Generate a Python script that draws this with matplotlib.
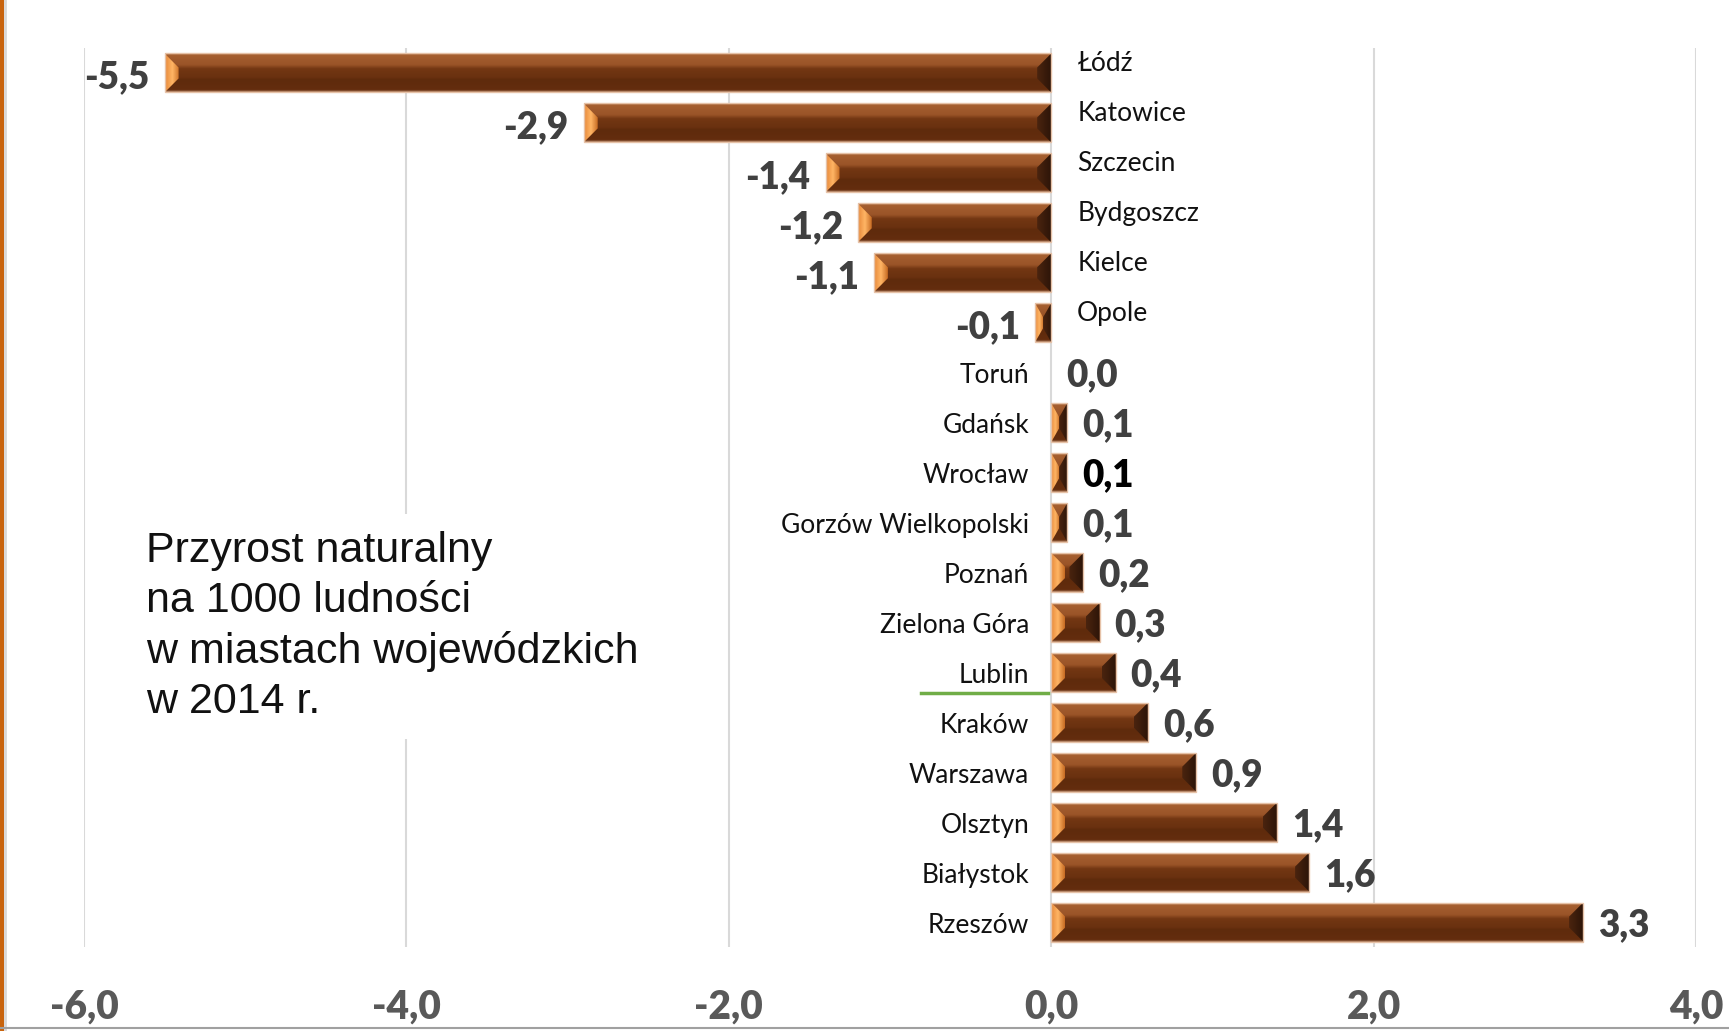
import numpy as np
import matplotlib
matplotlib.use("Agg")
import matplotlib.pyplot as plt
from matplotlib.patches import Polygon
from matplotlib.colors import LinearSegmentedColormap
from matplotlib.lines import Line2D

cities = ["Łódź", "Katowice", "Szczecin", "Bydgoszcz", "Kielce", "Opole",
          "Toruń", "Gdańsk", "Wrocław", "Gorzów Wielkopolski", "Poznań",
          "Zielona Góra", "Lublin", "Kraków", "Warszawa", "Olsztyn",
          "Białystok", "Rzeszów"]
values = [-5.5, -2.9, -1.4, -1.2, -1.1, -0.1,
          0.0, 0.1, 0.1, 0.1, 0.2,
          0.3, 0.4, 0.6, 0.9, 1.4,
          1.6, 3.3]
xticks = [-6, -4, -2, 0, 2, 4]
title = "Przyrost naturalny\nna 1000 ludności\nw miastach wojewódzkich\nw 2014 r."

W, H = 1729, 1031
fig = plt.figure(figsize=(W / 100, H / 100), dpi=100)
ax = fig.add_axes([84 / W, 1 - 947 / H, (1696 - 84) / W, (947 - 48) / H])

lab_font = "Lato"
bar_h = 0.78
px_x = (1696 - 84) / 10.0      # pixels per unit on x
px_y = (947 - 48) / 18.0       # pixels per category
bev = 14                       # bevel size in pixels

vert = LinearSegmentedColormap.from_list("v", [
    (0.0, "#c8906a"), (0.05, "#a55f30"), (0.30, "#9a5428"), (0.40, "#733713"),
    (0.62, "#6a3110"), (0.68, "#5f2b0c"), (0.95, "#642d0e"), (1.0, "#c09070")])
left_cm = LinearSegmentedColormap.from_list("l", ["#e8893a", "#ffb565", "#c66a22"])
right_cm = LinearSegmentedColormap.from_list("r", ["#4a240f", "#2e1508"])

ypos = np.arange(len(cities))
bars = ax.barh(ypos, values, height=bar_h, color="#6e3412",
               edgecolor="none", zorder=2)

grad_v = np.linspace(0, 1, 200).reshape(-1, 1)
grad_h = np.linspace(0, 1, 100).reshape(1, -1)
for b, v in zip(bars, values):
    if v == 0:
        continue
    x0 = min(0, v)
    x1 = max(0, v)
    yt = b.get_y()
    yb = yt + bar_h
    im = ax.imshow(grad_v, cmap=vert, extent=(x0, x1, yb, yt), origin="upper",
                   aspect="auto", zorder=2.1, interpolation="bilinear")
    im.set_clip_path(b)
    bx = min(bev / px_x, (x1 - x0) / 2)
    by = bev / px_y
    lp = Polygon([(x0, yt), (x0 + bx, yt + by), (x0 + bx, yb - by), (x0, yb)],
                 closed=True, transform=ax.transData)
    iml = ax.imshow(grad_h, cmap=left_cm, extent=(x0, x0 + bx, yb, yt),
                    aspect="auto", zorder=2.2, interpolation="bilinear")
    iml.set_clip_path(lp)
    rp = Polygon([(x1, yt), (x1 - bx, yt + by), (x1 - bx, yb - by), (x1, yb)],
                 closed=True, transform=ax.transData)
    imr = ax.imshow(grad_h, cmap=right_cm, extent=(x1 - bx, x1, yb, yt),
                    aspect="auto", zorder=2.2, interpolation="bilinear")
    imr.set_clip_path(rp)
    ax.add_patch(Polygon([(x0, yt), (x1, yt), (x1, yb), (x0, yb)], closed=True,
                         fill=False, edgecolor="#e6c2a8", linewidth=1.0, zorder=2.3))

# value labels and city names
for y, v, c in zip(ypos, values, cities):
    txt = f"{v:.1f}".replace(".", ",")
    col = "#000000" if c == "Wrocław" else "#404040"
    if v < 0:
        ax.annotate(txt, (v, y), xytext=(-15, -4), textcoords="offset pixels",
                    ha="right", va="center", fontsize=26.5, fontweight="heavy",
                    color=col, family=lab_font, zorder=4)
        ax.annotate(c, (0, y), xytext=(26, 9), textcoords="offset pixels",
                    ha="left", va="center", fontsize=19, color="#111111",
                    family=lab_font, zorder=4)
    else:
        ax.annotate(txt, (v, y), xytext=(15, -3), textcoords="offset pixels",
                    ha="left", va="center", fontsize=26.5, fontweight="heavy",
                    color=col, family=lab_font, zorder=4)
        ax.annotate(c, (0, y), xytext=(-22, -3), textcoords="offset pixels",
                    ha="right", va="center", fontsize=19, color="#111111",
                    family=lab_font, zorder=4)

ax.set_xlim(-6, 4)
ax.set_ylim(len(cities) - 0.5, -0.5)
ax.set_xticks(xticks)
ax.set_xticklabels([f"{t:.1f}".replace(".", ",") for t in xticks],
                   fontsize=28, fontweight="heavy", color="#595959", family=lab_font)
ax.set_yticks([])
ax.tick_params(axis="x", length=0, pad=30)
ax.grid(axis="x", color="#d9d9d9", linewidth=1.5, zorder=0)
ax.set_axisbelow(True)
for s in ax.spines.values():
    s.set_visible(False)

# underline artifact near Lublin
ax.plot([-0.81, -0.02], [12.41, 12.41], color="#70ad47", linewidth=2.5, zorder=3)

fig.text(146 / W, 1 - 531 / H, title, ha="left", va="top", fontsize=31,
         family="Liberation Sans", color="#111111", linespacing=1.32,
         bbox=dict(facecolor="white", edgecolor="none", pad=12), zorder=5)

# frame decorations
fig.add_artist(Line2D([1.5 / W, 1.5 / W], [0, 1], color="#c8640e", linewidth=3))
fig.add_artist(Line2D([5 / W, 5 / W], [0, 1], color="#d8d8d8", linewidth=2))
fig.add_artist(Line2D([0, 1], [3 / H, 3 / H], color="#a0a0a0", linewidth=1.5))

fig.savefig("out.png", dpi=100)
